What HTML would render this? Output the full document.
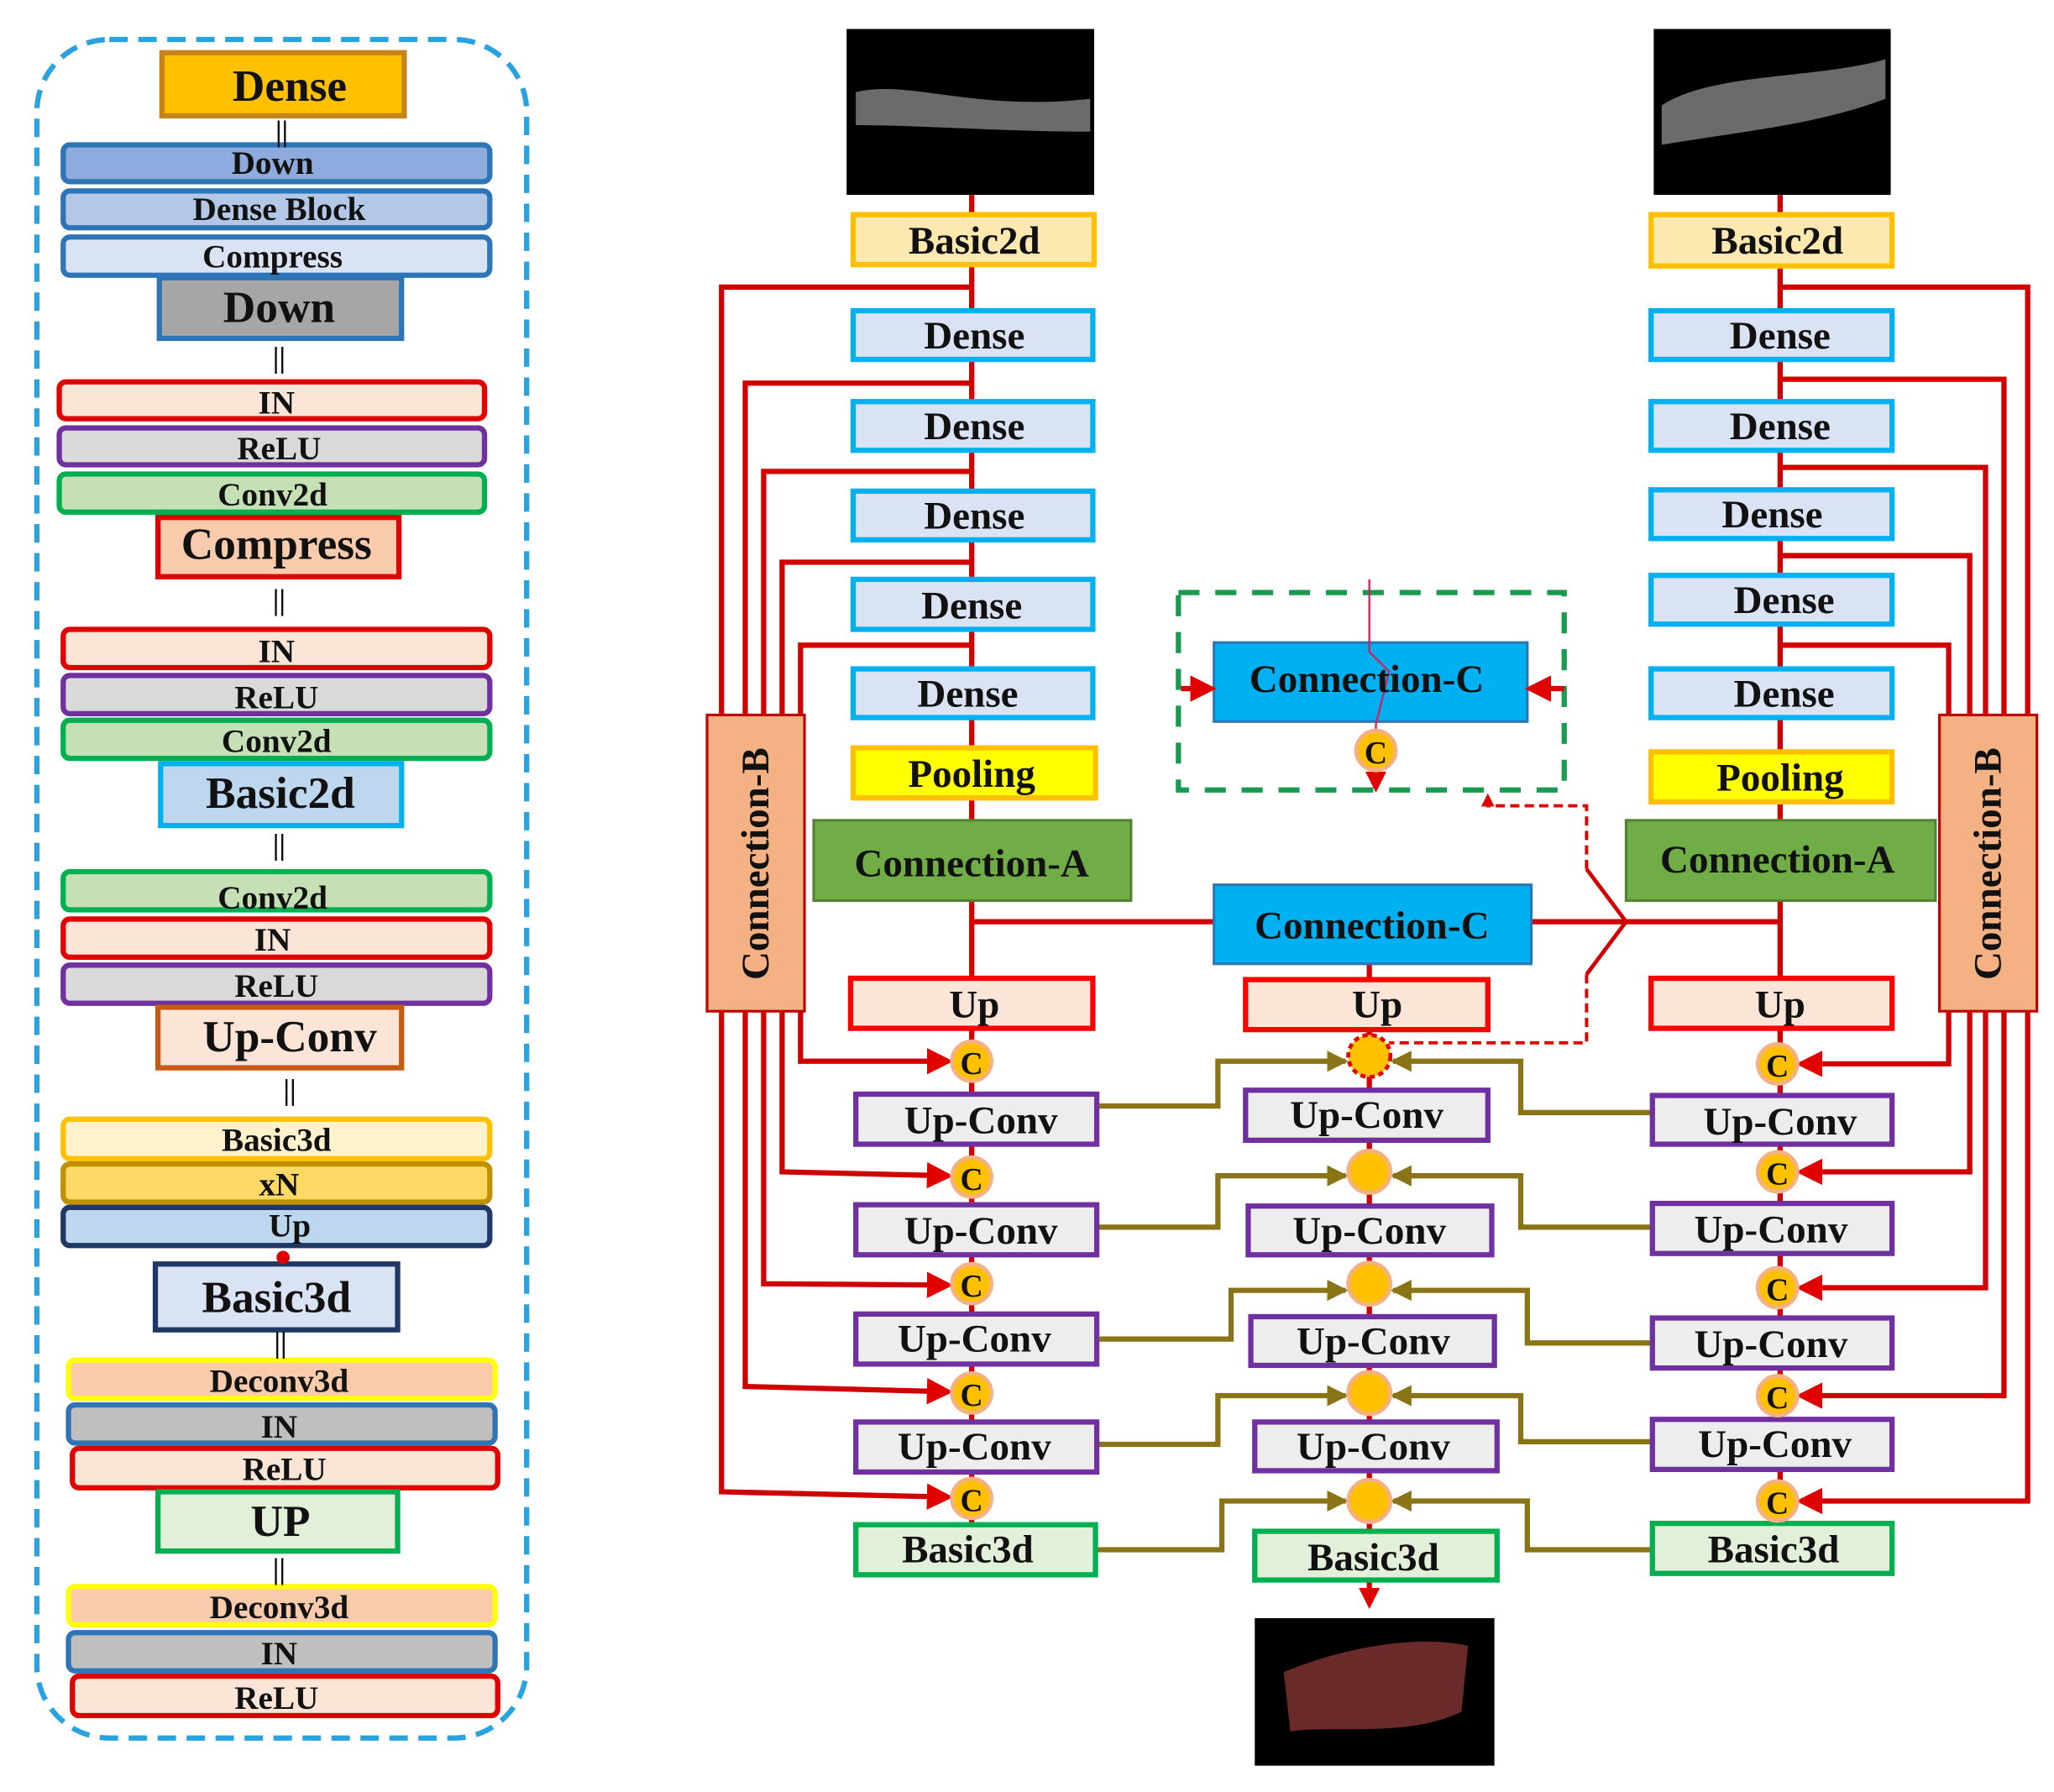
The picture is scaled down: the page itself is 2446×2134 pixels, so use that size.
<!DOCTYPE html>
<html><head><meta charset="utf-8"><style>
html,body{margin:0;padding:0;background:#fff}
svg{display:block}
text{font-family:"Liberation Serif",serif;font-weight:bold;fill:#111;text-anchor:middle;dominant-baseline:central}
</style></head><body>
<svg width="2446" height="2134" viewBox="0 0 1560 1361" xmlns="http://www.w3.org/2000/svg">
<defs>
<marker id="ar" markerWidth="5" markerHeight="5" refX="4" refY="2.5" orient="auto" markerUnits="strokeWidth"><path d="M0,0 L5,2.5 L0,5z" fill="#e00000"/></marker>
<marker id="ao" markerWidth="4" markerHeight="4" refX="3.5" refY="2" orient="auto" markerUnits="strokeWidth"><path d="M0,0 L4,2 L0,4z" fill="#8a7418"/></marker>
<marker id="ar2" markerWidth="4" markerHeight="4" refX="3" refY="2" orient="auto" markerUnits="strokeWidth"><path d="M0,0 L4,2 L0,4z" fill="#e00000"/></marker>
</defs>

<!-- LEFT PANEL -->
<rect x="28" y="30" width="372" height="1290" rx="55" fill="none" stroke="#29a3e0" stroke-width="4" stroke-dasharray="14,8"/>
<g stroke-width="4">
<rect x="123" y="40" width="184" height="48" fill="#ffc000" stroke="#c8841c"/>
<rect x="48" y="110" width="324" height="28" rx="5" fill="#8faadc" stroke="#2e75b6"/>
<rect x="48" y="145" width="324" height="28" rx="5" fill="#b4c7e7" stroke="#2e75b6"/>
<rect x="48" y="180" width="324" height="29" rx="5" fill="#dae3f3" stroke="#2e75b6"/>
<rect x="121" y="211" width="184" height="46" fill="#a6a6a6" stroke="#2e75b6"/>
<rect x="45" y="290" width="323" height="28" rx="5" fill="#fbe5d6" stroke="#e00000"/>
<rect x="45" y="325" width="323" height="28" rx="5" fill="#d9d9d9" stroke="#7030a0"/>
<rect x="45" y="360" width="323" height="29" rx="5" fill="#c5e0b4" stroke="#00b050"/>
<rect x="120" y="393" width="183" height="45" fill="#f8cbad" stroke="#e00000"/>
<rect x="48" y="478" width="324" height="29" rx="5" fill="#fbe5d6" stroke="#e00000"/>
<rect x="48" y="513" width="324" height="29" rx="5" fill="#d9d9d9" stroke="#7030a0"/>
<rect x="48" y="547" width="324" height="29" rx="5" fill="#c5e0b4" stroke="#00b050"/>
<rect x="122" y="580" width="183" height="47" fill="#bdd7ee" stroke="#00b0f0"/>
<rect x="48" y="662" width="324" height="29" rx="5" fill="#c5e0b4" stroke="#00b050"/>
<rect x="48" y="698" width="324" height="29" rx="5" fill="#fbe5d6" stroke="#e00000"/>
<rect x="48" y="733" width="324" height="29" rx="5" fill="#d9d9d9" stroke="#7030a0"/>
<rect x="120" y="765" width="185" height="46" fill="#fce4d6" stroke="#c55a11"/>
<rect x="48" y="850" width="324" height="30" rx="5" fill="#fff2cc" stroke="#ffc000"/>
<rect x="48" y="884" width="324" height="29" rx="5" fill="#ffd966" stroke="#bf9000"/>
<rect x="48" y="917" width="324" height="29" rx="5" fill="#bdd7ee" stroke="#1f3864"/>
<rect x="118" y="960" width="184" height="50" fill="#dae3f3" stroke="#1f3864"/>
<rect x="52" y="1033" width="324" height="29" rx="5" fill="#f8cbad" stroke="#ffff00"/>
<rect x="52" y="1067" width="324" height="29" rx="5" fill="#bfbfbf" stroke="#2e75b6"/>
<rect x="55" y="1100" width="323" height="30" rx="5" fill="#fbe5d6" stroke="#e00000"/>
<rect x="120" y="1133" width="182" height="45" fill="#e2f0d9" stroke="#00b050"/>
<rect x="52" y="1205" width="324" height="29" rx="5" fill="#f8cbad" stroke="#ffff00"/>
<rect x="52" y="1240" width="324" height="29" rx="5" fill="#bfbfbf" stroke="#2e75b6"/>
<rect x="55" y="1273" width="323" height="30" rx="5" fill="#fbe5d6" stroke="#e00000"/>
</g>
<circle cx="215" cy="955" r="5" fill="#e00000"/>
<g font-size="34">
<text x="220" y="65">Dense</text><text x="212" y="233">Down</text><text x="210" y="413">Compress</text>
<text x="213" y="602">Basic2d</text><text x="220" y="787">Up-Conv</text><text x="210" y="985">Basic3d</text><text x="213" y="1155">UP</text>
</g>
<g font-size="25">
<text x="207" y="124">Down</text><text x="212" y="159">Dense Block</text><text x="207" y="195">Compress</text>
<text x="210" y="306">IN</text><text x="212" y="341">ReLU</text><text x="207" y="376">Conv2d</text>
<text x="210" y="495">IN</text><text x="210" y="530">ReLU</text><text x="210" y="563">Conv2d</text>
<text x="207" y="682">Conv2d</text><text x="207" y="714">IN</text><text x="210" y="749">ReLU</text>
<text x="210" y="866">Basic3d</text><text x="212" y="900">xN</text><text x="220" y="931">Up</text>
<text x="212" y="1049">Deconv3d</text><text x="212" y="1084">IN</text><text x="216" y="1116">ReLU</text>
<text x="212" y="1221">Deconv3d</text><text x="212" y="1256">IN</text><text x="210" y="1290">ReLU</text>
</g>
<g font-size="22"><text x="214" y="100">||</text><text x="212" y="272">||</text><text x="212" y="456">||</text><text x="212" y="642">||</text><text x="220" y="828">||</text><text x="213" y="1020">||</text><text x="212" y="1192">||</text></g>

<!-- RED LINES -->
<g stroke="#d00000" stroke-width="4" fill="none">
<line x1="738" y1="148" x2="738" y2="1160"/>
<line x1="1352" y1="148" x2="1352" y2="1160"/>
<line x1="1040" y1="732" x2="1040" y2="1165"/>
<line x1="738" y1="700" x2="922" y2="700"/>
<line x1="1163" y1="700" x2="1352" y2="700"/>
<polyline points="1205,660 1235,700 1205,740" stroke-width="3"/>
<polyline points="738,218 548,218 548,1133 720,1137" marker-end="url(#ar)"/>
<polyline points="738,291 566,291 566,1053 720,1057" marker-end="url(#ar)"/>
<polyline points="738,358 580,358 580,975 720,976" marker-end="url(#ar)"/>
<polyline points="738,427 594,427 594,890 720,893" marker-end="url(#ar)"/>
<polyline points="738,490 608,490 608,806 720,806" marker-end="url(#ar)"/>
<polyline points="1352,218 1540,218 1540,1140 1368,1140" marker-end="url(#ar)"/>
<polyline points="1352,288 1522,288 1522,1060 1368,1060" marker-end="url(#ar)"/>
<polyline points="1352,355 1508,355 1508,978 1368,978" marker-end="url(#ar)"/>
<polyline points="1352,422 1496,422 1496,890 1368,890" marker-end="url(#ar)"/>
<polyline points="1352,490 1480,490 1480,808 1368,808" marker-end="url(#ar)"/>
<line x1="1040" y1="1200" x2="1040" y2="1218" marker-end="url(#ar2)"/>
</g>
<g stroke="#e00000" stroke-width="2.5" fill="none" stroke-dasharray="7,4">
<polyline points="1205,660 1205,612 1130,612 1130,605" marker-end="url(#ar2)"/>
<polyline points="1205,740 1205,792 1055,792"/>
</g>

<!-- OLIVE LINES -->
<g stroke="#8a7418" stroke-width="4" fill="none">
<polyline points="833,840 925,840 925,806 1022,806" marker-end="url(#ao)"/>
<polyline points="1255,845 1155,845 1155,806 1058,806" marker-end="url(#ao)"/>
<polyline points="833,932 925,932 925,893 1022,893" marker-end="url(#ao)"/>
<polyline points="1255,932 1155,932 1155,893 1058,893" marker-end="url(#ao)"/>
<polyline points="835,1017 935,1017 935,980 1022,980" marker-end="url(#ao)"/>
<polyline points="1255,1020 1160,1020 1160,980 1058,980" marker-end="url(#ao)"/>
<polyline points="833,1097 925,1097 925,1060 1022,1060" marker-end="url(#ao)"/>
<polyline points="1255,1095 1155,1095 1155,1060 1058,1060" marker-end="url(#ao)"/>
<polyline points="833,1177 928,1177 928,1140 1022,1140" marker-end="url(#ao)"/>
<polyline points="1255,1177 1160,1177 1160,1140 1058,1140" marker-end="url(#ao)"/>
</g>

<!-- Images -->
<rect x="643" y="22" width="188" height="126" fill="#000"/>
<path d="M650,70 C690,60 740,85 828,75 L828,100 C760,100 700,95 650,95z" fill="#999" opacity="0.7"/>
<rect x="1256" y="22" width="180" height="126" fill="#000"/>
<path d="M1262,80 C1300,55 1380,60 1432,45 L1432,75 C1380,95 1320,100 1262,110z" fill="#999" opacity="0.7"/>
<rect x="953" y="1229" width="182" height="112" fill="#000"/>
<path d="M975,1270 C1010,1255 1070,1240 1115,1250 L1110,1300 C1070,1320 1010,1310 980,1315z" fill="#6b2a2a"/>

<!-- Boxes right diagram -->
<g stroke-width="4">
<rect x="648" y="163" width="183" height="38" fill="#fde9b0" stroke="#ffc000"/>
<rect x="1254" y="163" width="183" height="39" fill="#fde9b0" stroke="#ffc000"/>
<g fill="#dae3f3" stroke="#00b0f0">
<rect x="648" y="236" width="182" height="37"/><rect x="648" y="305" width="182" height="37"/><rect x="648" y="373" width="182" height="37"/><rect x="648" y="440" width="182" height="38"/><rect x="648" y="508" width="182" height="37"/>
<rect x="1254" y="236" width="183" height="37"/><rect x="1254" y="305" width="183" height="37"/><rect x="1254" y="372" width="183" height="37"/><rect x="1254" y="437" width="183" height="37"/><rect x="1254" y="508" width="183" height="37"/>
</g>
<rect x="648" y="568" width="184" height="38" fill="#ffff00" stroke="#ffc000"/>
<rect x="1254" y="571" width="183" height="38" fill="#ffff00" stroke="#ffc000"/>
<rect x="618" y="623" width="241" height="61" fill="#70ad47" stroke="#548235" stroke-width="2"/>
<rect x="1235" y="623" width="235" height="61" fill="#70ad47" stroke="#548235" stroke-width="2"/>
<rect x="922" y="672" width="241" height="60" fill="#00b0f0" stroke="#2e75b6" stroke-width="2"/>
<rect x="537" y="543" width="74" height="225" fill="#f4b183" stroke="#c00000" stroke-width="2"/>
<rect x="1473" y="543" width="74" height="225" fill="#f4b183" stroke="#c00000" stroke-width="2"/>
<g fill="#fbe5d6" stroke="#ff0000"><rect x="646" y="743" width="184" height="38"/><rect x="946" y="744" width="184" height="38"/><rect x="1254" y="743" width="183" height="38"/></g>
<g fill="#ededed" stroke="#7030a0">
<rect x="650" y="831" width="183" height="38"/><rect x="650" y="915" width="183" height="38"/><rect x="650" y="998" width="183" height="38"/><rect x="650" y="1080" width="183" height="38"/>
<rect x="946" y="828" width="184" height="38"/><rect x="948" y="916" width="185" height="37"/><rect x="950" y="1000" width="185" height="37"/><rect x="953" y="1080" width="184" height="37"/>
<rect x="1255" y="832" width="182" height="37"/><rect x="1255" y="914" width="182" height="38"/><rect x="1255" y="1001" width="182" height="38"/><rect x="1255" y="1078" width="182" height="38"/>
</g>
<g fill="#e2f0d9" stroke="#00b050"><rect x="650" y="1158" width="182" height="38"/><rect x="953" y="1163" width="184" height="37"/><rect x="1255" y="1157" width="182" height="38"/></g>
</g>

<!-- Circles -->
<g fill="#ffc000" stroke="#f4b183" stroke-width="3">
<circle cx="738" cy="806" r="15"/><circle cx="738" cy="894" r="15"/><circle cx="738" cy="975" r="15"/><circle cx="738" cy="1058" r="15"/><circle cx="738" cy="1138" r="15"/>
<circle cx="1350" cy="808" r="15"/><circle cx="1350" cy="890" r="15"/><circle cx="1350" cy="978" r="15"/><circle cx="1350" cy="1060" r="15"/><circle cx="1350" cy="1140" r="15"/>
<circle cx="1040" cy="890" r="16"/><circle cx="1040" cy="975" r="16"/><circle cx="1040" cy="1058" r="16"/><circle cx="1040" cy="1140" r="16"/>
</g>
<circle cx="1040" cy="802" r="16" fill="#ffc000" stroke="#e00000" stroke-width="3" stroke-dasharray="4,3"/>
<g font-size="24">
<text x="738" y="808">C</text><text x="738" y="896">C</text><text x="738" y="977">C</text><text x="738" y="1060">C</text><text x="738" y="1140">C</text>
<text x="1350" y="810">C</text><text x="1350" y="892">C</text><text x="1350" y="980">C</text><text x="1350" y="1062">C</text><text x="1350" y="1142">C</text>
</g>

<!-- Connection-C detail -->
<rect x="895" y="450" width="293" height="150" fill="none" stroke="#1a9a50" stroke-width="4" stroke-dasharray="16,12"/>
<rect x="922" y="488" width="238" height="60" fill="#00b0f0" stroke="#2e75b6" stroke-width="2"/>
<polyline points="1040,440 1040,495 1055,510 1045,550 1045,560" fill="none" stroke="#d02060" stroke-width="1.5"/>
<g stroke="#e00000" stroke-width="4" fill="none">
<line x1="897" y1="523" x2="920" y2="523" marker-end="url(#ar)"/>
<line x1="1188" y1="523" x2="1162" y2="523" marker-end="url(#ar)"/>
<line x1="1045" y1="586" x2="1045" y2="598" marker-end="url(#ar2)"/>
</g>
<circle cx="1045" cy="570" r="15" fill="#ffc000" stroke="#f4b183" stroke-width="3"/>
<text x="1045" y="572" font-size="24">C</text>

<!-- Labels -->
<g font-size="30">
<text x="740" y="183">Basic2d</text><text x="1350" y="183">Basic2d</text>
<text x="740" y="255">Dense</text><text x="740" y="324">Dense</text><text x="740" y="392">Dense</text><text x="738" y="460">Dense</text><text x="735" y="527">Dense</text>
<text x="1352" y="255">Dense</text><text x="1352" y="324">Dense</text><text x="1346" y="391">Dense</text><text x="1355" y="456">Dense</text><text x="1355" y="527">Dense</text>
<text x="738" y="588">Pooling</text><text x="1352" y="591">Pooling</text>
<text x="738" y="656">Connection-A</text><text x="1350" y="653">Connection-A</text>
<text x="1042" y="703">Connection-C</text><text x="1038" y="516">Connection-C</text>
<text x="740" y="763">Up</text><text x="1046" y="763">Up</text><text x="1352" y="763">Up</text>
<text x="745" y="851">Up-Conv</text><text x="1038" y="847">Up-Conv</text><text x="1352" y="852">Up-Conv</text>
<text x="745" y="935">Up-Conv</text><text x="1040" y="935">Up-Conv</text><text x="1345" y="934">Up-Conv</text>
<text x="740" y="1017">Up-Conv</text><text x="1043" y="1019">Up-Conv</text><text x="1345" y="1021">Up-Conv</text>
<text x="740" y="1099">Up-Conv</text><text x="1043" y="1099">Up-Conv</text><text x="1348" y="1097">Up-Conv</text>
<text x="735" y="1177">Basic3d</text><text x="1043" y="1183">Basic3d</text><text x="1347" y="1177">Basic3d</text>
<text x="574" y="656" transform="rotate(-90 574 656)">Connection-B</text>
<text x="1510" y="656" transform="rotate(-90 1510 656)">Connection-B</text>
</g>
</svg>
</body></html>
